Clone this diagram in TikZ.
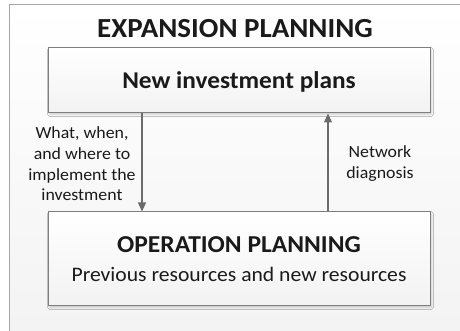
\documentclass[tikz,border=0pt]{standalone}
\usepackage{fontspec}
\setmainfont{Carlito}[FakeStretch=1.05]
\usepackage{xcolor}
\definecolor{mframe}{HTML}{A6A6A6}
\definecolor{mline}{HTML}{7F7F7F}
\definecolor{marrow}{HTML}{6B6B6B}
\definecolor{mtext}{HTML}{1A1A1A}
\usepackage{tikz}
\usetikzlibrary{calc,shadows.blur,arrows.meta}

\begin{document}
\begin{tikzpicture}[x=1pt, y=1pt, text=mtext,
        planbox/.style={draw=mline, line width=1pt, minimum width=382pt, inner sep=0pt, text depth=0pt,
            top color=white, bottom color=black!5,
            blur shadow={shadow xshift=1.5pt, shadow yshift=-1.5pt, shadow blur steps=4, shadow opacity=18}},
        flow/.style={draw=marrow, line width=1.2pt, -{Triangle[length=9pt, width=8pt]}},
        note/.style={align=center, font=\fontsize{17}{20.7}\selectfont}]
            \useasboundingbox (0, 0) rectangle (460, 331);
            \draw[mframe, line width=1pt, top color=white, bottom color=black!5] (9.5, 326.5) rectangle (480, -20);
            \node (title) at (235, 302) {\fontsize{27.6}{32}\selectfont\bfseries EXPANSION PLANNING};
            \node[planbox, minimum height=65pt] (invest) at (239, 250.5)
                {\fontsize{24.1}{28}\selectfont\bfseries New investment plans};
            \node[planbox, minimum height=94pt, align=center, font=\fontsize{20.6}{28.5}\selectfont] (oper) at (239, 72)
                {{\fontsize{24.3}{28.5}\selectfont\bfseries OPERATION PLANNING}\\
                 Previous resources and new resources};
            \coordinate (down) at (142, 0);
            \coordinate (up) at (328, 0);
            \draw[flow] (invest.south -| down) -- (oper.north -| down);
            \draw[flow] (oper.north -| up) -- (invest.south -| up);
            \node[note] (what) at (82, 167) {What, when,\\and where to\\implement the\\investment};
            \node[note] (diag) at (380, 167.5) {Network\\diagnosis};
        \end{tikzpicture}
\end{document}
